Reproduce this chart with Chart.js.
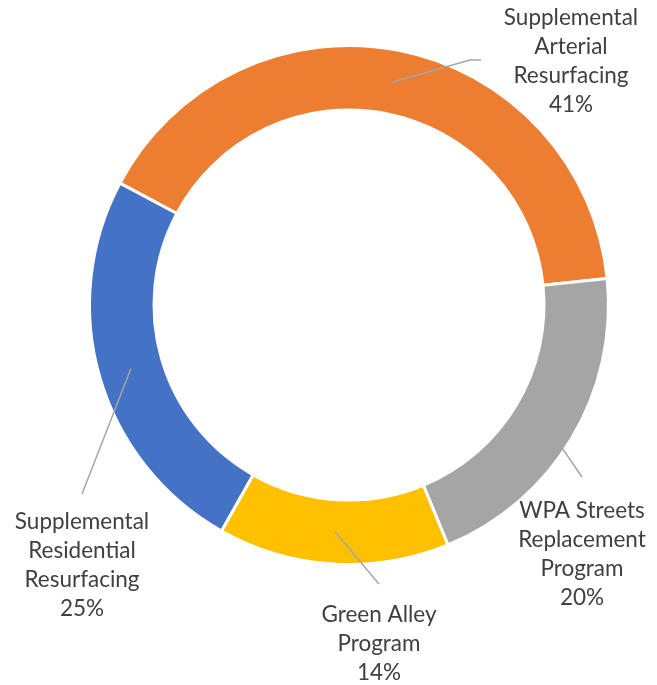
<!DOCTYPE html>
<html>
<head>
<meta charset="utf-8">
<script src="https://cdn.jsdelivr.net/npm/chart.js@4/dist/chart.umd.min.js"></script>
<style>
  html, body { margin: 0; padding: 0; background: #ffffff; }
  #wrap { width: 657px; height: 685px; position: relative; }
</style>
</head>
<body>
<div id="wrap"><canvas id="chart"></canvas></div>
<script>
  // category names, already broken into the lines shown on the chart
  const categories = [
    ["Supplemental", "Arterial", "Resurfacing"],
    ["WPA Streets", "Replacement", "Program"],
    ["Green Alley", "Program"],
    ["Supplemental", "Residential", "Resurfacing"],
  ];
  const shares = [40.6, 20.4, 14.4, 24.6];
  const sliceColors = ["#ED7D31", "#A5A5A5", "#FFC000", "#4472C4"];

  // where each label block sits (center x, first baseline y) and where its leader line ends
  const labelSpots = [
    { x: 571, y: 25, leader: [[470, 60], [481, 60]] },
    { x: 582, y: 518, leader: [[582, 477]] },
    { x: 379, y: 622, leader: [[379, 584]] },
    { x: 82, y: 529, leader: [[82, 494]] },
  ];

  const LINE_GAP = 29;

  const calloutPlugin = {
    id: "callouts",
    afterDraw: function (chart) {
      const ctx = chart.ctx;
      const meta = chart.getDatasetMeta(0);
      const values = chart.data.datasets[0].data;
      const total = values.reduce(function (a, b) { return a + b; }, 0);

      ctx.save();
      meta.data.forEach(function (arc, i) {
        const spot = labelSpots[i];
        const mid = (arc.startAngle + arc.endAngle) / 2;
        const r = (arc.innerRadius + arc.outerRadius) / 2;
        const ax = arc.x + Math.cos(mid) * r;
        const ay = arc.y + Math.sin(mid) * r;

        ctx.strokeStyle = "#A6A6A6";
        ctx.lineWidth = 1.5;
        ctx.beginPath();
        ctx.moveTo(ax, ay);
        spot.leader.forEach(function (p) {
          ctx.lineTo(p[0], p[1]);
        });
        ctx.stroke();

        const lines = chart.data.labels[i].concat([Math.round((values[i] / total) * 100) + "%"]);
        ctx.fillStyle = "#404040";
        ctx.font = "22.5px Lato, 'Open Sans', sans-serif";
        ctx.textAlign = "center";
        ctx.textBaseline = "alphabetic";
        lines.forEach(function (line, k) {
          ctx.fillText(line, spot.x, spot.y + k * LINE_GAP);
        });
      });
      ctx.restore();
    },
  };

  new Chart(document.getElementById("chart"), {
    type: "doughnut",
    data: {
      labels: categories,
      datasets: [
        {
          data: shares,
          backgroundColor: sliceColors,
          borderColor: "#ffffff",
          borderWidth: 3,
        },
      ],
    },
    options: {
      responsive: true,
      maintainAspectRatio: false,
      animation: false,
      rotation: -62,
      cutout: 195,
      layout: {
        padding: { left: 88, right: 47, top: 44, bottom: 119 },
      },
      plugins: {
        legend: { display: false },
        tooltip: { enabled: false },
      },
    },
    plugins: [calloutPlugin],
  });
</script>
</body>
</html>
